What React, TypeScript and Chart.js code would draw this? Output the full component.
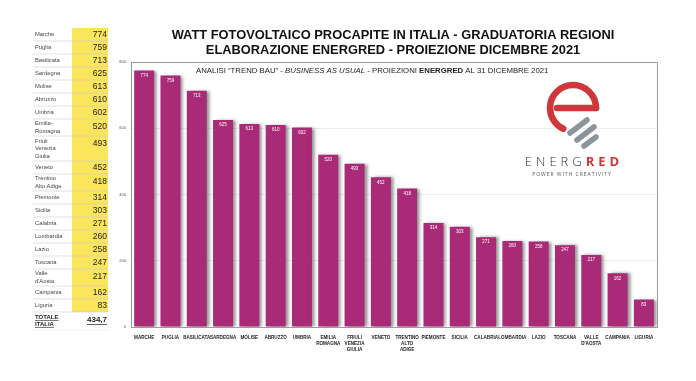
import React, { useEffect, useRef } from "react";
import { Chart, registerables } from "chart.js";

Chart.register(...registerables);

const categories: string[][] = [
  ["MARCHE"], ["PUGLIA"], ["BASILICATA"], ["SARDEGNA"], ["MOLISE"], ["ABRUZZO"], ["UMBRIA"],
  ["EMILIA", "ROMAGNA"], ["FRIULI", "VENEZIA", "GIULIA"], ["VENETO"], ["TRENTINO", "ALTO", "ADIGE"],
  ["PIEMONTE"], ["SICILIA"], ["CALABRIA"], ["LOMBARDIA"], ["LAZIO"], ["TOSCANA"],
  ["VALLE", "D'AOSTA"], ["CAMPANIA"], ["LIGURIA"],
];
const tableNames: string[][] = [
  ["Marche"], ["Puglia"], ["Basilicata"], ["Sardegna"], ["Molise"], ["Abruzzo"], ["Umbria"],
  ["Emilia-", "Romagna"], ["Friuli", "Venezia", "Giulia"], ["Veneto"], ["Trentino", "Alto Adige"],
  ["Piemonte"], ["Sicilia"], ["Calabria"], ["Lombardia"], ["Lazio"], ["Toscana"],
  ["Valle", "d'Aosta"], ["Campania"], ["Liguria"],
];
const wattValues: number[] = [774, 759, 713, 625, 613, 610, 602, 520, 493, 452, 418, 314, 303, 271, 260, 258, 247, 217, 162, 83];
const totalLabel: string[] = ["TOTALE", "ITALIA"];
const totalValue = "434,7";
const yTicks: number[] = [0, 200, 400, 600, 800];
const titleLines: string[] = [
  "WATT FOTOVOLTAICO PROCAPITE IN ITALIA - GRADUATORIA REGIONI",
  "ELABORAZIONE ENERGRED - PROIEZIONE DICEMBRE 2021",
];
const subtitleParts: { t: string; s: string }[] = [
  { t: "ANALISI \u201CTREND BAU\u201D - ", s: "" },
  { t: "BUSINESS AS USUAL", s: "italic " },
  { t: " - PROIEZIONI ", s: "" },
  { t: "ENERGRED", s: "bold " },
  { t: " AL 31 DICEMBRE 2021", s: "" },
];

const FONT = "'Liberation Sans', Arial, sans-serif";
const BAR = "#A92A76";

const decorPlugin = {
  id: "decor",
  beforeDatasetsDraw(chart: any) {
    const ctx = chart.ctx;
    ctx.save();
    ctx.shadowColor = "rgba(60,60,60,0.55)";
    ctx.shadowBlur = 3;
    ctx.shadowOffsetX = 3;
    ctx.shadowOffsetY = 0;
  },
  afterDatasetsDraw(chart: any) {
    const ctx = chart.ctx;
    ctx.restore();
    const ca = chart.chartArea;
    ctx.save();
    ctx.strokeStyle = "#9a9a9a";
    ctx.lineWidth = 1;
    ctx.beginPath();
    ctx.moveTo(ca.left, ca.top + 0.5);
    ctx.lineTo(ca.right + 0.5, ca.top + 0.5);
    ctx.lineTo(ca.right + 0.5, ca.bottom);
    ctx.stroke();
    const meta = chart.getDatasetMeta(0);
    ctx.fillStyle = "#ffffff";
    ctx.font = `4.5px ${FONT}`;
    ctx.textAlign = "center";
    ctx.textBaseline = "middle";
    meta.data.forEach((el: any, i: number) => {
      ctx.fillText(String(chart.data.datasets[0].data[i]), el.x, el.y + 5);
    });
    ctx.restore();
  },
  afterDraw(chart: any) {
    const ctx = chart.ctx;
    ctx.save();
    ctx.fillStyle = "#111";
    ctx.textAlign = "center";
    ctx.textBaseline = "middle";
    ctx.font = `bold 12px ${FONT}`;
    const s1 = (12 * 443) / ctx.measureText(titleLines[0]).width;
    ctx.font = `bold ${s1}px ${FONT}`;
    ctx.fillText(titleLines[0], 393, 35);
    ctx.fillText(titleLines[1], 393, 50);

    let total = 0;
    subtitleParts.forEach((p) => {
      ctx.font = `${p.s}10px ${FONT}`;
      total += ctx.measureText(p.t).width;
    });
    const ss = (10 * 353) / total;
    let x = 196;
    ctx.textAlign = "left";
    ctx.fillStyle = "#222";
    subtitleParts.forEach((p) => {
      ctx.font = `${p.s}${ss}px ${FONT}`;
      ctx.fillText(p.t, x, 71);
      x += ctx.measureText(p.t).width;
    });

    // logo
    const cx = 573, cy = 108, r = 23;
    ctx.strokeStyle = "#D0373A";
    ctx.lineWidth = 6.5;
    ctx.lineCap = "round";
    ctx.beginPath();
    ctx.arc(cx, cy, r, 0, Math.PI * 0.64, true);
    ctx.stroke();
    ctx.beginPath();
    ctx.moveTo(cx + r, cy);
    ctx.lineTo(cx - r + 7, cy);
    ctx.stroke();
    ctx.strokeStyle = "#8B949B";
    ctx.lineWidth = 5.5;
    const threads = [
      [570, 133, 587, 120],
      [577, 140, 594, 127],
      [584, 146, 596, 137],
    ];
    threads.forEach((t) => {
      ctx.beginPath();
      ctx.moveTo(t[0], t[1]);
      ctx.lineTo(t[2], t[3]);
      ctx.stroke();
    });
    ctx.textBaseline = "middle";
    ctx.textAlign = "left";
    (ctx as any).letterSpacing = "4px";
    ctx.font = `300 13px 'Open Sans', ${FONT}`;
    const wA = ctx.measureText("ENERG").width;
    ctx.font = `bold 13px 'Open Sans', ${FONT}`;
    const wB = ctx.measureText("RED").width;
    const lx = 574 - (wA + wB) / 2;
    ctx.fillStyle = "#333";
    ctx.font = `300 13px 'Open Sans', ${FONT}`;
    ctx.fillText("ENERG", lx, 162);
    ctx.fillStyle = "#D0373A";
    ctx.font = `bold 13px 'Open Sans', ${FONT}`;
    ctx.fillText("RED", lx + wA, 162);
    (ctx as any).letterSpacing = "1px";
    ctx.font = `5px 'Open Sans', ${FONT}`;
    ctx.fillStyle = "#555";
    ctx.textAlign = "center";
    ctx.fillText("POWER WITH CREATIVITY", 572, 175);
    (ctx as any).letterSpacing = "0px";

    // table
    const tLeft = 33, tMid = 72, tRight = 108;
    let y = 28;
    const heights = tableNames.map((n) => (n.length === 1 ? 13 : n.length === 2 ? 17 : 25));
    const totalH = 18;
    const tableEnd = y + heights.reduce((a, b) => a + b, 0);
    ctx.fillStyle = "#FBE55C";
    ctx.fillRect(tMid, y, tRight - tMid, tableEnd - y);
    tableNames.forEach((names, i) => {
      const h = heights[i];
      ctx.fillStyle = "#444";
      ctx.font = `5.8px ${FONT}`;
      ctx.textAlign = "left";
      ctx.textBaseline = "middle";
      const lh = 7.5;
      const startY = y + h / 2 - ((names.length - 1) * lh) / 2;
      names.forEach((n, k) => ctx.fillText(n, tLeft + 2, startY + k * lh));
      ctx.fillStyle = "#222";
      ctx.font = `8.5px ${FONT}`;
      ctx.textAlign = "right";
      const vy = names.length === 1 ? y + h / 2 : y + 8;
      ctx.fillText(String(wattValues[i]), tRight - 1, vy);
      y += h;
      ctx.strokeStyle = "#cfcfcf";
      ctx.lineWidth = 0.6;
      ctx.beginPath();
      ctx.moveTo(tLeft, y);
      ctx.lineTo(tRight, y);
      ctx.stroke();
    });
    ctx.fillStyle = "#222";
    ctx.font = `bold 6px ${FONT}`;
    ctx.textAlign = "left";
    totalLabel.forEach((t, k) => {
      const ty = y + 5 + k * 7;
      ctx.fillText(t, tLeft + 2, ty);
      const w = ctx.measureText(t).width;
      ctx.fillRect(tLeft + 2, ty + 3, w, 0.6);
    });
    ctx.font = `bold 8px ${FONT}`;
    ctx.textAlign = "right";
    ctx.fillText(totalValue, tRight - 1, y + 8);
    const wv = ctx.measureText(totalValue).width;
    ctx.fillRect(tRight - 1 - wv, y + 12, wv, 0.7);
    ctx.strokeStyle = "#e5e5e5";
    ctx.beginPath();
    ctx.moveTo(tLeft, y + totalH);
    ctx.lineTo(tRight, y + totalH);
    ctx.stroke();
    ctx.restore();
  },
};

export default function App() {
  const ref = useRef<HTMLCanvasElement | null>(null);
  useEffect(() => {
    document.body.style.margin = "0";
    document.body.style.background = "#fff";
    if (!ref.current) return;
    const chart = new Chart(ref.current, {
      type: "bar",
      data: {
        labels: categories,
        datasets: [
          {
            data: wattValues,
            backgroundColor: BAR,
            barPercentage: 0.76,
            categoryPercentage: 1,
          },
        ],
      },
      options: {
        animation: false,
        responsive: false,
        devicePixelRatio: 1,
        layout: { padding: { left: 116, top: 62, right: 39, bottom: 0 } },
        plugins: { legend: { display: false }, tooltip: { enabled: false } },
        scales: {
          x: {
            grid: { display: false },
            border: { color: "#9a9a9a" },
            ticks: {
              color: "#222",
              font: { family: FONT, size: 4.6, weight: "bold", lineHeight: 1.3 },
              maxRotation: 0,
              autoSkip: false,
              padding: 0,
            },
            afterFit: (s: any) => {
              s.height = 54;
            },
          },
          y: {
            min: 0,
            max: 800,
            afterBuildTicks: (s: any) => {
              s.ticks = yTicks.map((v) => ({ value: v }));
            },
            grid: { color: "#ececec", drawTicks: false },
            border: { color: "#9a9a9a" },
            ticks: {
              color: "#555",
              font: { family: FONT, size: 4 },
              padding: 5,
            },
            afterFit: (s: any) => {
              s.width = 15;
            },
          },
        },
      } as any,
      plugins: [decorPlugin],
    });
    return () => chart.destroy();
  }, []);
  return (
    <canvas ref={ref} width={696} height={381} style={{ display: "block", width: 696, height: 381 }} />
  );
}
